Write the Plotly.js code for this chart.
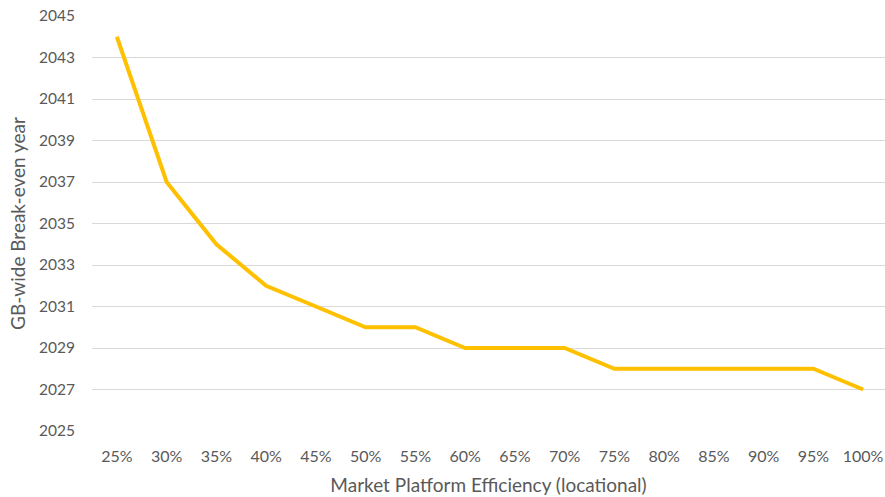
<!DOCTYPE html>
<html>
<head>
<meta charset="utf-8">
<script src="https://cdn.plot.ly/plotly-3.0.1.min.js"></script>
<style>
  html, body { margin: 0; padding: 0; background: #fff; }
  #chart { width: 885px; height: 497px; }
</style>
</head>
<body>
<div id="chart"></div>
<script>
// Platform efficiency levels (locational) and the GB-wide break-even year for each
const efficiency = ['25%', '30%', '35%', '40%', '45%', '50%', '55%', '60%',
                    '65%', '70%', '75%', '80%', '85%', '90%', '95%', '100%'];
const breakEvenYear = [2044, 2037, 2034, 2032, 2031, 2030, 2030, 2029,
                       2029, 2029, 2028, 2028, 2028, 2028, 2028, 2027];
const yearTicks = [2025, 2027, 2029, 2031, 2033, 2035, 2037, 2039, 2041, 2043, 2045];

const textColor = '#595959';
const fontFamily = 'Lato, "Open Sans", sans-serif';

const trace = {
  type: 'scatter',
  mode: 'lines',
  x: efficiency,
  y: breakEvenYear,
  line: { color: '#FFC000', width: 4 },
  hoverinfo: 'x+y'
};

const layout = {
  width: 885,
  height: 497,
  margin: { l: 92, r: 0, t: 16, b: 66 },
  paper_bgcolor: '#ffffff',
  plot_bgcolor: '#ffffff',
  showlegend: false,
  font: { family: fontFamily, size: 15, color: textColor },
  xaxis: {
    type: 'category',
    range: [-0.5, 15.44],
    showgrid: false,
    zeroline: false,
    showline: false,
    ticks: '',
    ticklabelstandoff: 14,
    tickfont: { family: fontFamily, size: 16, color: textColor },
    title: { text: 'Market Platform Efficiency (locational)', font: { family: fontFamily, size: 19, color: textColor }, standoff: 14 }
  },
  yaxis: {
    range: [2025, 2045],
    tickvals: yearTicks,
    ticktext: yearTicks.map(String),
    showgrid: true,
    gridcolor: '#d9d9d9',
    gridwidth: 1,
    zeroline: false,
    showline: false,
    ticks: '',
    ticklabelstandoff: 16,
    tickfont: { family: fontFamily, size: 15.5, color: textColor },
    title: { text: 'GB-wide Break-even year', font: { family: fontFamily, size: 19, color: textColor }, standoff: 8 }
  }
};

Plotly.newPlot('chart', [trace], layout, { displayModeBar: false, staticPlot: true });
</script>
</body>
</html>
